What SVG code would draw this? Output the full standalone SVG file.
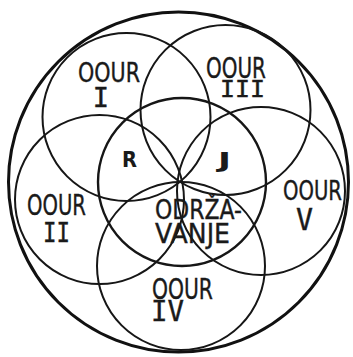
<svg xmlns="http://www.w3.org/2000/svg" width="353" height="357" viewBox="0 0 353 357">
  <style>
    .c { fill: none; stroke: #161616; stroke-width: 2; }
    .outer { fill: none; stroke: #111; stroke-width: 3; }
    .mid { stroke-width: 2.4; }
    .t { font-family: "DejaVu Sans", "Liberation Sans", sans-serif; fill: #1a1a1a; stroke: #1a1a1a; stroke-width: 0.4; }
    .n { font-family: "DejaVu Sans Mono", "Liberation Mono", monospace; fill: #1a1a1a; stroke: #1a1a1a; stroke-width: 0.4; }
    .b { font-family: "DejaVu Sans", "Liberation Sans", sans-serif; font-weight: bold; fill: #1a1a1a; }
  </style>
  <rect width="353" height="357" fill="#ffffff"/>
  <g id="outer">
    <circle class="outer" cx="178.5" cy="182" r="170"/>
  </g>
  <g id="oour-i">
    <circle class="c" cx="126.5" cy="117" r="84"/>
    <text class="t" x="78" y="82" font-size="27" textLength="62" lengthAdjust="spacingAndGlyphs">OOUR</text>
    <text class="n" x="101" y="107" font-size="27" text-anchor="middle">I</text>
  </g>
  <g id="oour-iii">
    <circle class="c" cx="225.5" cy="110" r="85"/>
    <text class="t" x="206" y="78" font-size="28" textLength="60" lengthAdjust="spacingAndGlyphs">OOUR</text>
    <text class="n" x="220" y="97" font-size="23" textLength="45" lengthAdjust="spacingAndGlyphs">III</text>
  </g>
  <g id="oour-ii">
    <circle class="c" cx="99.5" cy="199.5" r="84.5"/>
    <text class="t" x="27" y="215" font-size="28" textLength="59" lengthAdjust="spacingAndGlyphs">OOUR</text>
    <text class="n" x="43" y="242" font-size="27" textLength="27" lengthAdjust="spacingAndGlyphs">II</text>
  </g>
  <g id="oour-v">
    <circle class="c" cx="261" cy="191" r="84"/>
    <text class="t" x="283" y="200" font-size="27" textLength="59" lengthAdjust="spacingAndGlyphs">OOUR</text>
    <text class="n" x="296" y="230" font-size="30" textLength="17" lengthAdjust="spacingAndGlyphs">V</text>
  </g>
  <g id="oour-iv">
    <circle class="c" cx="181" cy="266" r="84"/>
    <text class="t" x="152" y="299" font-size="29" textLength="61" lengthAdjust="spacingAndGlyphs">OOUR</text>
    <text class="n" x="151" y="321" font-size="28" textLength="33" lengthAdjust="spacingAndGlyphs">IV</text>
  </g>
  <g id="odrzavanje">
    <circle class="c mid" cx="182" cy="182" r="84"/>
    <text class="t" x="155" y="219" font-size="26" textLength="87" lengthAdjust="spacingAndGlyphs">ODRŽA-</text>
    <text class="t" x="155" y="243" font-size="27" textLength="75" lengthAdjust="spacingAndGlyphs">VANJE</text>
  </g>
  <g id="r">
    <text class="b" x="122" y="167" font-size="21" textLength="15" lengthAdjust="spacingAndGlyphs">R</text>
  </g>
  <g id="j">
    <text class="b" x="218" y="168" font-size="21" textLength="13" lengthAdjust="spacingAndGlyphs">J</text>
  </g>
  <g id="connectors"/>
</svg>
